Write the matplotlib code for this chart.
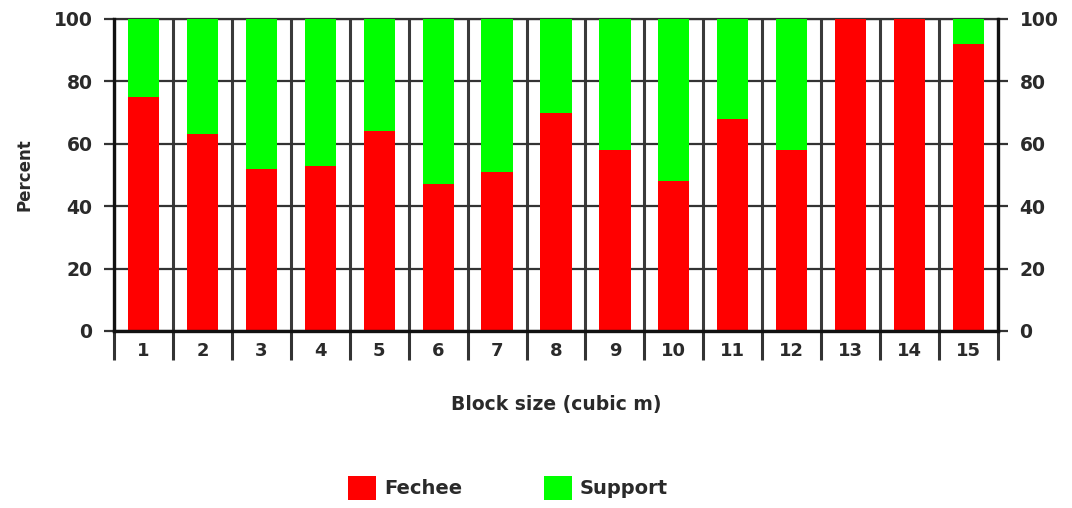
import matplotlib
matplotlib.use("Agg")
import matplotlib.pyplot as plt
from matplotlib.patches import Patch
import numpy as np

# Block size classes and the share (%) in each class
block_sizes = ["1", "2", "3", "4", "5", "6", "7", "8", "9", "10", "11", "12", "13", "14", "15"]
fechee_pct = [75, 63, 52, 53, 64, 47, 51, 70, 58, 48, 68, 58, 100, 100, 92]
support_pct = [100 - v for v in fechee_pct]
y_ticks = [0, 20, 40, 60, 80, 100]

RED = "#ff0000"
GREEN = "#00ff00"
INK = "#2a2a2a"
GRID = "#333333"

plt.rcParams["font.family"] = ["DejaVu Sans"]
plt.rcParams["font.weight"] = "bold"

fig = plt.figure(figsize=(10.72, 5.08), dpi=100)
ax = fig.add_axes([114 / 1072, 1 - 331 / 508, (998 - 114) / 1072, (331 - 19) / 508])

x = np.arange(len(block_sizes))
ax.bar(x, fechee_pct, width=0.53, color=RED, zorder=3)
ax.bar(x, support_pct, bottom=fechee_pct, width=0.53, color=GREEN, zorder=3)

ax.set_xlim(-0.5, len(block_sizes) - 0.5)
ax.set_ylim(0, 100)

# Category separators: major ticks on the boundaries, labels on minor ticks
bounds = np.arange(-0.5, len(block_sizes), 1.0)
ax.set_xticks(bounds)
ax.set_xticklabels([])
ax.set_xticks(x, minor=True)
ax.set_xticklabels(block_sizes, minor=True, fontsize=13, fontweight="bold", color=INK)
ax.tick_params(axis="x", which="major", direction="out", length=21, width=2.2, color=GRID)
ax.tick_params(axis="x", which="minor", length=0, pad=8)
ax.xaxis.grid(True, which="major", color="#3a3a3a", linewidth=2.2)

ax.set_yticks(y_ticks)
ax.set_yticklabels([str(v) for v in y_ticks], fontsize=13.5, fontweight="bold", color=INK)
ax.tick_params(axis="y", which="major", direction="out", length=7.5, width=1.6, color=GRID,
               left=True, right=True, labelleft=True, labelright=True, pad=8)
ax.yaxis.grid(True, color=GRID, linewidth=1.6)
ax.set_axisbelow(True)

for side in ("left", "right", "bottom"):
    ax.spines[side].set_linewidth(2.4)
    ax.spines[side].set_color("#111111")
    ax.spines[side].set_zorder(4)
ax.spines["top"].set_linewidth(1.6)
ax.spines["top"].set_color(GRID)

ax.set_ylabel("Percent", fontsize=12, fontweight="bold", color=INK)
ax.yaxis.set_label_coords(-0.0905, 0.50)
ax.set_xlabel("Block size (cubic m)", fontsize=13.5, fontweight="bold", color=INK)
ax.xaxis.set_label_coords(0.5, -0.205)

handles = [Patch(facecolor=RED, edgecolor="none", label="Fechee"),
           Patch(facecolor=GREEN, edgecolor="none", label="Support")]
leg = fig.legend(handles=handles, loc="center", bbox_to_anchor=(508 / 1072, 1 - 488 / 508),
                 ncol=2, frameon=False, fontsize=14, handlelength=1.45, handleheight=1.45,
                 handletextpad=0.4, columnspacing=4.2)
for t in leg.get_texts():
    t.set_fontweight("bold")
    t.set_color(INK)

fig.savefig("out.png", dpi=100, facecolor="white")
